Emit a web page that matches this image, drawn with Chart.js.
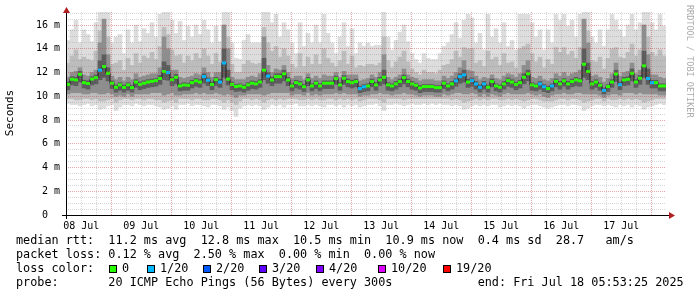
<!DOCTYPE html>
<html>
<head>
<meta charset="utf-8">
<script src="https://cdn.jsdelivr.net/npm/chart.js@4.4.1/dist/chart.umd.min.js"></script>
<style>
    html, body { margin: 0; padding: 0; background: #ffffff; }
    #wrap { width: 697px; height: 297px; }
</style>
</head>
<body>
<div id="wrap"><canvas id="smokeChart" width="697" height="297"></canvas></div>
<script>
// Smokeping graph, last 10 days, one sample every 1.6 h
const START_H = 5.89;    // hours after 08 Jul 00:00 (= end - 10 days)
const END_H = 245.89;    // Fri Jul 18 05:53:25
const STEP_H = 1.6;
const Y_MAX = 17.1;

const dayLabels = ['08 Jul', '09 Jul', '10 Jul', '11 Jul', '12 Jul', '13 Jul', '14 Jul', '15 Jul', '16 Jul', '17 Jul'];
const xTickHours = [6, 12, 18, 24, 30, 36, 42, 48, 54, 60, 66, 72, 78, 84, 90, 96, 102, 108, 114, 120,
    126, 132, 138, 144, 150, 156, 162, 168, 174, 180, 186, 192, 198, 204, 210, 216, 222, 228, 234, 240];
const yMajorTicks = [0, 2, 4, 6, 8, 10, 12, 14, 16];
const yLabels = ['0  ', '2 m', '4 m', '6 m', '8 m', '10 m', '12 m', '14 m', '16 m'];

// median rtt (ms)
const medianRtt = [
    11.0, 11.43, 11.38, 11.85, 11.15, 11.07, 11.45, 11.57, 12.2, 12.5,
    11.94, 11.1, 10.76, 10.96, 10.75, 10.96, 10.73, 11.2, 11.0, 11.1,
    11.2, 11.26, 11.32, 11.5, 12.08, 12.0, 11.4, 11.6, 10.87, 10.95,
    10.93, 11.15, 11.3, 11.2, 11.66, 11.35, 11.0, 11.4, 11.2, 12.8,
    11.45, 11.0, 10.82, 10.87, 10.76, 10.96, 11.1, 11.04, 11.2, 12.2,
    11.7, 11.38, 11.66, 11.66, 11.9, 11.38, 10.87, 11.15, 11.04, 10.8,
    11.38, 10.87, 11.1, 10.87, 11.1, 11.1, 11.1, 11.49, 10.96, 11.52,
    11.24, 11.15, 11.24, 10.65, 10.8, 10.87, 11.24, 10.96, 11.38, 11.6,
    10.96, 10.87, 11.04, 11.24, 11.57, 11.24, 11.04, 10.93, 10.7, 10.82,
    10.82, 10.82, 10.73, 10.73, 11.1, 10.87, 11.04, 11.3, 11.66, 11.8,
    11.2, 11.32, 11.04, 10.76, 11.04, 10.76, 11.24, 10.87, 10.76, 11.04,
    11.32, 11.2, 11.0, 11.15, 11.6, 11.9, 10.96, 10.87, 11.04, 10.8,
    10.65, 10.87, 11.26, 11.04, 11.3, 11.04, 11.24, 11.38, 11.3, 12.7,
    12.08, 11.04, 11.2, 10.93, 10.5, 10.82, 11.2, 11.88, 10.98, 11.38,
    11.43, 11.94, 11.2, 11.52, 12.56, 11.5, 11.15, 11.15, 10.87, 10.87
];

// lost pings per sample (index into lossLabels / lossColors)
const lossIdx = [
    0, 0, 0, 0, 0, 0, 0, 0, 1, 0,
    0, 0, 0, 0, 0, 0, 0, 0, 0, 0,
    0, 0, 0, 0, 0, 1, 0, 0, 0, 0,
    0, 0, 0, 0, 1, 1, 0, 0, 1, 1,
    0, 0, 0, 0, 0, 0, 0, 0, 0, 0,
    1, 0, 0, 0, 0, 0, 0, 0, 0, 0,
    0, 0, 0, 0, 0, 0, 0, 0, 0, 0,
    0, 0, 0, 1, 1, 0, 0, 0, 0, 0,
    0, 0, 0, 0, 0, 0, 0, 0, 0, 0,
    0, 0, 0, 0, 0, 0, 0, 1, 1, 1,
    0, 1, 1, 1, 1, 0, 0, 0, 0, 0,
    0, 0, 0, 0, 0, 0, 0, 0, 1, 1,
    0, 1, 0, 0, 0, 0, 0, 0, 0, 0,
    0, 0, 0, 0, 1, 0, 0, 0, 1, 0,
    0, 0, 0, 0, 0, 1, 1, 0, 0, 0
];

// smoke: outer band (fastest .. slowest ping)
const smokeMin = [
    9.4, 9.3, 9.3, 9.2, 9.3, 9.4, 9.2, 9.3, 8.9, 9.0,
    9.2, 9.3, 8.8, 9.1, 9.3, 9.3, 9.2, 9.4, 9.3, 9.2,
    9.3, 9.3, 9.2, 9.1, 8.9, 9.0, 9.2, 8.9, 9.3, 9.3,
    9.4, 9.2, 9.3, 9.3, 9.2, 9.1, 9.3, 9.3, 9.2, 8.9,
    9.1, 8.8, 8.3, 9.0, 9.2, 9.3, 9.2, 9.3, 9.2, 8.9,
    9.1, 9.3, 9.2, 9.3, 9.1, 9.3, 9.3, 9.4, 9.2, 9.2,
    9.3, 9.2, 9.3, 9.2, 9.1, 9.3, 9.3, 9.2, 9.3, 9.1,
    9.3, 9.2, 9.3, 9.1, 9.2, 9.3, 9.3, 9.4, 9.2, 8.8,
    9.3, 9.3, 9.4, 9.3, 9.2, 9.3, 9.4, 9.3, 9.3, 9.4,
    9.3, 9.4, 9.3, 9.4, 9.3, 9.3, 9.2, 9.3, 9.2, 8.9,
    9.0, 9.2, 9.3, 9.2, 9.3, 9.2, 9.3, 9.3, 9.1, 9.2,
    9.3, 9.2, 9.3, 9.2, 9.0, 9.2, 9.3, 9.3, 9.2, 9.1,
    9.0, 9.1, 9.2, 9.3, 9.3, 9.2, 9.3, 9.3, 9.2, 8.8,
    9.0, 9.2, 9.3, 9.3, 9.2, 9.3, 9.2, 9.1, 9.3, 9.2,
    9.3, 9.1, 9.3, 9.2, 8.9, 9.1, 9.2, 9.3, 9.4, 9.3
];
const smokeMax = [
    14.7, 15.6, 16.4, 14.5, 15.6, 15.2, 14.6, 16.2, 17.1, 17.1,
    17.1, 14.5, 15.0, 15.2, 13.6, 15.6, 14.5, 16.0, 14.6, 15.7,
    15.3, 16.2, 15.0, 16.9, 17.1, 17.1, 16.4, 15.3, 16.3, 14.7,
    15.9, 15.0, 16.0, 15.2, 16.4, 15.6, 14.5, 15.9, 14.6, 17.1,
    17.1, 14.5, 13.2, 13.1, 14.7, 15.2, 14.5, 14.5, 14.5, 17.1,
    17.1, 16.2, 16.9, 15.0, 16.2, 15.6, 14.5, 13.6, 16.2, 14.2,
    15.3, 14.5, 16.0, 14.5, 16.9, 15.3, 14.5, 13.6, 15.0, 16.2,
    14.2, 15.7, 13.6, 14.5, 14.2, 14.5, 14.2, 14.3, 14.3, 17.1,
    15.0, 13.9, 14.7, 15.4, 16.0, 14.6, 13.6, 13.1, 12.8, 13.6,
    13.2, 13.1, 13.1, 13.6, 14.2, 14.5, 15.2, 16.2, 14.9, 16.4,
    16.9, 16.6, 14.5, 15.3, 13.9, 16.9, 15.0, 15.7, 14.5, 16.2,
    14.2, 14.7, 13.9, 16.9, 16.9, 16.9, 16.2, 15.0, 15.6, 13.9,
    15.6, 14.5, 16.9, 16.4, 16.9, 15.9, 16.4, 15.0, 16.9, 17.1,
    17.1, 15.0, 14.5, 15.6, 14.2, 15.6, 16.9, 16.4, 15.6, 15.0,
    16.0, 16.9, 15.6, 16.2, 17.1, 17.1, 16.2, 15.6, 16.9, 15.9
];

// smoke: second band
const band2Lo = [
    9.8, 9.8, 9.7, 9.7, 9.8, 9.8, 9.7, 9.8, 9.6, 9.6,
    9.7, 9.8, 9.5, 9.7, 9.8, 9.8, 9.7, 9.8, 9.8, 9.7,
    9.8, 9.8, 9.7, 9.7, 9.5, 9.6, 9.7, 9.5, 9.8, 9.8,
    9.8, 9.7, 9.8, 9.8, 9.7, 9.7, 9.8, 9.8, 9.7, 9.5,
    9.7, 9.5, 9.3, 9.6, 9.8, 9.8, 9.7, 9.8, 9.7, 9.5,
    9.7, 9.8, 9.7, 9.8, 9.7, 9.8, 9.8, 9.8, 9.7, 9.7,
    9.8, 9.7, 9.8, 9.7, 9.7, 9.8, 9.8, 9.7, 9.8, 9.7,
    9.8, 9.7, 9.8, 9.6, 9.7, 9.8, 9.8, 9.8, 9.7, 9.5,
    9.8, 9.8, 9.8, 9.8, 9.7, 9.8, 9.8, 9.8, 9.8, 9.8,
    9.8, 9.8, 9.8, 9.8, 9.8, 9.8, 9.7, 9.8, 9.7, 9.5,
    9.6, 9.7, 9.8, 9.7, 9.8, 9.7, 9.8, 9.8, 9.7, 9.7,
    9.8, 9.7, 9.8, 9.7, 9.6, 9.7, 9.8, 9.8, 9.7, 9.6,
    9.6, 9.6, 9.7, 9.8, 9.8, 9.7, 9.8, 9.8, 9.7, 9.5,
    9.6, 9.7, 9.8, 9.8, 9.6, 9.8, 9.7, 9.7, 9.8, 9.7,
    9.8, 9.7, 9.8, 9.7, 9.5, 9.6, 9.7, 9.8, 9.8, 9.8
];
const band2Hi = [
    12.8, 13.4, 13.9, 13.1, 13.3, 13.1, 13.0, 13.8, 15.5, 16.0,
    15.0, 12.7, 12.8, 13.0, 12.2, 13.2, 12.6, 13.6, 12.8, 13.4,
    13.2, 13.7, 13.1, 14.2, 15.8, 15.2, 13.9, 13.4, 13.5, 12.8,
    13.4, 13.0, 13.6, 13.2, 14.0, 13.4, 12.7, 13.6, 12.9, 16.0,
    15.0, 12.7, 12.0, 12.0, 12.7, 13.0, 12.8, 12.7, 12.8, 15.8,
    14.5, 13.8, 14.2, 13.3, 14.0, 13.4, 12.7, 12.4, 13.6, 12.5,
    13.3, 12.7, 13.5, 12.7, 14.0, 13.2, 12.8, 12.5, 13.0, 13.8,
    12.7, 13.4, 12.4, 12.6, 12.5, 12.7, 12.7, 12.6, 12.8, 15.0,
    13.0, 12.4, 12.9, 13.3, 13.8, 12.9, 12.3, 12.0, 11.8, 12.2,
    12.0, 12.0, 11.9, 12.2, 12.6, 12.7, 13.1, 13.8, 13.3, 14.1,
    14.0, 14.0, 12.8, 13.0, 12.5, 13.8, 13.1, 13.3, 12.6, 13.6,
    12.8, 12.9, 12.4, 14.0, 14.2, 14.4, 13.6, 12.9, 13.3, 12.4,
    13.1, 12.7, 14.1, 13.7, 14.1, 13.5, 13.8, 13.2, 14.1, 16.2,
    15.5, 13.0, 12.9, 13.3, 12.3, 13.2, 14.0, 14.1, 13.3, 13.2,
    13.7, 14.4, 13.4, 13.9, 16.0, 15.0, 13.7, 13.4, 13.9, 13.4
];

// smoke: third band
const band3Lo = [
    10.2, 10.3, 10.3, 10.3, 10.2, 10.2, 10.3, 10.3, 10.2, 10.2,
    10.3, 10.2, 10.0, 10.1, 10.0, 10.2, 10.0, 10.2, 10.2, 10.2,
    10.2, 10.3, 10.3, 10.3, 10.1, 10.2, 10.3, 10.1, 10.1, 10.2,
    10.2, 10.2, 10.3, 10.2, 10.3, 10.2, 10.2, 10.3, 10.2, 10.1,
    10.2, 10.1, 9.9, 10.1, 10.1, 10.2, 10.2, 10.2, 10.2, 10.1,
    10.2, 10.3, 10.3, 10.3, 10.3, 10.3, 10.1, 10.2, 10.2, 10.1,
    10.3, 10.1, 10.2, 10.1, 10.2, 10.2, 10.2, 10.3, 10.2, 10.3,
    10.2, 10.2, 10.2, 10.0, 10.1, 10.1, 10.2, 10.2, 10.3, 10.2,
    10.2, 10.1, 10.2, 10.2, 10.3, 10.2, 10.2, 10.1, 10.0, 10.1,
    10.1, 10.1, 10.0, 10.0, 10.2, 10.1, 10.2, 10.3, 10.3, 10.2,
    10.2, 10.3, 10.2, 10.0, 10.2, 10.0, 10.2, 10.1, 10.0, 10.2,
    10.3, 10.2, 10.2, 10.2, 10.2, 10.3, 10.2, 10.1, 10.2, 10.0,
    9.9, 10.1, 10.2, 10.2, 10.3, 10.2, 10.2, 10.3, 10.3, 10.2,
    10.2, 10.2, 10.2, 10.1, 9.9, 10.1, 10.2, 10.2, 10.1, 10.3,
    10.3, 10.3, 10.2, 10.3, 10.2, 10.2, 10.2, 10.2, 10.1, 10.1
];
const band3Hi = [
    11.6, 12.0, 12.1, 12.4, 11.8, 11.7, 12.0, 12.2, 14.5, 16.5,
    13.5, 11.7, 11.4, 11.6, 11.3, 11.6, 11.4, 11.9, 11.6, 11.7,
    11.8, 11.9, 11.9, 12.4, 15.0, 14.0, 12.2, 12.2, 11.6, 11.5,
    11.6, 11.7, 11.9, 11.8, 12.4, 12.0, 11.6, 12.0, 12.0, 16.0,
    14.0, 11.6, 11.4, 11.4, 11.4, 11.6, 11.7, 11.6, 11.9, 15.0,
    12.6, 12.0, 12.3, 12.2, 12.6, 12.0, 11.5, 11.7, 11.7, 11.4,
    11.9, 11.5, 11.7, 11.5, 11.8, 11.7, 11.7, 12.0, 11.6, 12.1,
    11.8, 11.8, 11.8, 11.3, 11.4, 11.5, 11.8, 11.6, 12.0, 13.5,
    11.6, 11.4, 11.6, 11.8, 12.3, 11.8, 11.6, 11.5, 11.3, 11.4,
    11.4, 11.4, 11.3, 11.3, 11.7, 11.5, 11.7, 12.0, 12.4, 13.0,
    12.2, 12.1, 11.7, 11.4, 11.6, 11.5, 11.8, 11.5, 11.4, 11.7,
    11.9, 11.8, 11.6, 11.9, 12.6, 13.0, 11.6, 11.5, 11.7, 11.4,
    11.3, 11.5, 11.9, 11.7, 12.0, 11.7, 11.9, 12.0, 12.2, 16.5,
    14.5, 11.7, 11.8, 11.6, 11.2, 11.5, 11.9, 12.8, 11.7, 12.0,
    12.1, 12.8, 11.9, 12.2, 16.0, 13.5, 11.8, 11.8, 11.6, 11.5
];

// smoke: innermost band around the median
const coreLo = [
    10.55, 10.95, 10.9, 11.2, 10.7, 10.6, 10.95, 11.05, 11.4, 11.6,
    11.3, 10.65, 10.35, 10.5, 10.35, 10.5, 10.35, 10.75, 10.55, 10.65,
    10.75, 10.8, 10.85, 11.0, 11.4, 11.35, 10.9, 11.05, 10.45, 10.5,
    10.5, 10.7, 10.85, 10.75, 11.1, 10.9, 10.55, 10.9, 10.75, 11.6,
    10.95, 10.55, 10.4, 10.45, 10.35, 10.5, 10.65, 10.6, 10.75, 11.4,
    11.1, 10.9, 11.1, 11.1, 11.3, 10.9, 10.45, 10.7, 10.6, 10.4,
    10.9, 10.45, 10.65, 10.45, 10.65, 10.65, 10.65, 11.0, 10.5, 11.0,
    10.8, 10.7, 10.8, 10.3, 10.4, 10.45, 10.8, 10.5, 10.9, 11.05,
    10.5, 10.45, 10.6, 10.8, 11.05, 10.8, 10.6, 10.5, 10.3, 10.4,
    10.4, 10.4, 10.35, 10.35, 10.65, 10.45, 10.6, 10.85, 11.1, 11.2,
    10.75, 10.85, 10.6, 10.35, 10.6, 10.35, 10.8, 10.45, 10.35, 10.6,
    10.85, 10.75, 10.55, 10.7, 11.05, 11.3, 10.5, 10.45, 10.6, 10.4,
    10.3, 10.45, 10.8, 10.6, 10.85, 10.6, 10.8, 10.9, 10.85, 11.6,
    11.4, 10.6, 10.75, 10.5, 10.2, 10.4, 10.75, 11.25, 10.55, 10.9,
    10.95, 11.3, 10.75, 11.0, 11.6, 11.0, 10.7, 10.7, 10.45, 10.45
];
const coreHi = [
    11.2, 11.65, 11.6, 12.1, 11.35, 11.3, 11.65, 11.8, 13.0, 13.5,
    12.4, 11.3, 10.95, 11.15, 10.95, 11.15, 10.9, 11.4, 11.2, 11.3,
    11.4, 11.45, 11.5, 11.75, 12.9, 12.6, 11.6, 11.85, 11.05, 11.15,
    11.1, 11.35, 11.5, 11.4, 11.9, 11.55, 11.2, 11.6, 11.45, 14.0,
    12.2, 11.2, 11.0, 11.05, 10.95, 11.15, 11.3, 11.25, 11.4, 13.2,
    12.0, 11.6, 11.9, 11.9, 12.2, 11.6, 11.05, 11.35, 11.25, 11.0,
    11.6, 11.05, 11.3, 11.05, 11.3, 11.3, 11.3, 11.7, 11.15, 11.75,
    11.45, 11.35, 11.45, 10.85, 11.0, 11.05, 11.45, 11.15, 11.6, 12.2,
    11.15, 11.05, 11.25, 11.45, 11.8, 11.45, 11.25, 11.1, 10.9, 11.0,
    11.0, 11.0, 10.9, 10.9, 11.3, 11.05, 11.25, 11.5, 11.9, 12.2,
    11.45, 11.55, 11.25, 10.95, 11.25, 10.95, 11.45, 11.05, 10.95, 11.25,
    11.55, 11.4, 11.2, 11.35, 11.9, 12.2, 11.15, 11.05, 11.25, 11.0,
    10.85, 11.05, 11.45, 11.25, 11.5, 11.25, 11.45, 11.6, 11.5, 14.0,
    12.8, 11.25, 11.4, 11.1, 10.7, 11.0, 11.4, 12.2, 11.2, 11.6,
    11.65, 12.3, 11.4, 11.75, 13.8, 12.3, 11.35, 11.35, 11.05, 11.05
];

const lossLabels = ['0', '1/20', '2/20', '3/20', '4/20', '10/20', '19/20'];
const lossColors = ['#26ff00', '#00b8ff', '#0059ff', '#5e00ff', '#7e00ff', '#dd00ff', '#ff0000'];

const legendLines = [
    'median rtt:  11.2 ms avg  12.8 ms max  10.5 ms min  10.9 ms now  0.4 ms sd  28.7   am/s',
    'packet loss: 0.12 % avg  2.50 % max  0.00 % min  0.00 % now',
    'loss color:',
    'probe:       20 ICMP Echo Pings (56 Bytes) every 300s            end: Fri Jul 18 05:53:25 2025'
];

const MAJOR_GRID = 'rgba(200, 60, 60, 0.45)';
const MINOR_GRID = 'rgba(130, 130, 130, 0.32)';
const MONO = '"DejaVu Sans Mono", "Liberation Mono", monospace';

const sampleHours = medianRtt.map((_, i) => START_H + STEP_H * (i + 0.5));

function band(lo, hi) {
    return lo.map((v, i) => ({ x: sampleHours[i], y: [v, hi[i]] }));
}

const smokeBands = [
    { lo: smokeMin, hi: smokeMax, color: '#dddddd' },
    { lo: band2Lo, hi: band2Hi, color: '#bdbdbd' },
    { lo: band3Lo, hi: band3Hi, color: '#8e8e8e' },
    { lo: coreLo, hi: coreHi, color: '#5c5c5c' }
];

const datasets = smokeBands.map((b, k) => ({
    type: 'bar',
    order: 10 - k,
    data: band(b.lo, b.hi),
    backgroundColor: b.color,
    borderWidth: 0,
    grouped: false,
    barPercentage: 1,
    categoryPercentage: 1
}));

// thin dark line joining the medians
datasets.push({
    type: 'line',
    order: 2,
    data: medianRtt.map((v, i) => ({ x: sampleHours[i], y: v })),
    stepped: 'middle',
    borderColor: '#202020',
    borderWidth: 1,
    pointRadius: 0
});

// median marks coloured by packet loss
datasets.push({
    type: 'line',
    order: 1,
    data: medianRtt.map((v, i) => ({ x: sampleHours[i], y: v })),
    showLine: false,
    pointStyle: 'line',
    pointRadius: 2,
    pointBorderWidth: 3,
    pointBorderColor: lossIdx.map(k => lossColors[k])
});

const decorPlugin = {
    id: 'smokepingDecor',
    afterDraw(chart) {
        const ctx = chart.ctx;
        const area = chart.chartArea;
        ctx.save();

        // axes
        ctx.fillStyle = '#000000';
        ctx.fillRect(area.left - 4, area.bottom, area.right - area.left + 8, 1);
        ctx.fillRect(area.left, area.top, 1, area.bottom - area.top + 4);

        // arrows
        ctx.fillStyle = '#b01e1e';
        ctx.beginPath();
        ctx.moveTo(area.left - 3, area.top + 1);
        ctx.lineTo(area.left + 4, area.top + 1);
        ctx.lineTo(area.left + 0.5, area.top - 5);
        ctx.closePath();
        ctx.fill();
        ctx.beginPath();
        ctx.moveTo(area.right + 3, area.bottom - 3);
        ctx.lineTo(area.right + 3, area.bottom + 4);
        ctx.lineTo(area.right + 9, area.bottom + 0.5);
        ctx.closePath();
        ctx.fill();

        // y axis title
        ctx.fillStyle = '#000000';
        ctx.font = '11px ' + MONO;
        ctx.textAlign = 'center';
        ctx.textBaseline = 'middle';
        ctx.save();
        ctx.translate(10, 113);
        ctx.rotate(-Math.PI / 2);
        ctx.fillText('Seconds', 0, 0);
        ctx.restore();

        // legend
        ctx.font = '11.8px ' + MONO;
        ctx.textAlign = 'left';
        const lineY = [241, 255, 269, 283];
        legendLines.forEach((t, i) => ctx.fillText(t, 16, lineY[i]));

        const boxX = [109, 147, 203, 259, 316, 378, 443];
        lossColors.forEach((c, i) => {
            ctx.fillStyle = c;
            ctx.fillRect(boxX[i], 265, 7, 7);
            ctx.strokeStyle = '#000000';
            ctx.lineWidth = 1;
            ctx.strokeRect(boxX[i] + 0.5, 265.5, 7, 7);
            ctx.fillStyle = '#000000';
            ctx.fillText(lossLabels[i], boxX[i] + 13, 269);
        });

        // watermark
        ctx.fillStyle = '#aaaaaa';
        ctx.font = '8.5px ' + MONO;
        ctx.translate(689, 5);
        ctx.rotate(Math.PI / 2);
        ctx.textAlign = 'left';
        ctx.fillText('RRDTOOL / TOBI OETIKER', 0, 0);
        ctx.restore();
    }
};

new Chart(document.getElementById('smokeChart'), {
    type: 'bar',
    data: { datasets: datasets },
    options: {
        responsive: false,
        animation: false,
        events: [],
        layout: { padding: { top: 12, right: 31, left: 0, bottom: 0 } },
        plugins: {
            legend: { display: false },
            tooltip: { enabled: false }
        },
        scales: {
            x: {
                type: 'linear',
                min: START_H,
                max: END_H,
                offset: false,
                afterBuildTicks: s => { s.ticks = xTickHours.map(v => ({ value: v })); },
                afterFit: s => { s.height = 82; },
                grid: {
                    z: 1,
                    offset: false,
                    drawTicks: false,
                    color: c => (c.tick && c.tick.value % 24 === 0) ? MAJOR_GRID : MINOR_GRID
                },
                border: { display: false, dash: [1, 1] },
                ticks: {
                    autoSkip: false,
                    maxRotation: 0,
                    padding: 5,
                    color: '#000000',
                    font: { family: MONO, size: 10 },
                    callback: v => v % 24 === 12 ? dayLabels[Math.floor(v / 24)] : ''
                }
            },
            y: {
                type: 'linear',
                min: 0,
                max: Y_MAX,
                afterBuildTicks: s => {
                    const t = [];
                    for (let v = 0; v <= Y_MAX; v += 0.5) t.push({ value: v });
                    s.ticks = t;
                },
                afterFit: s => { s.width = 66; },
                grid: {
                    z: 1,
                    drawTicks: false,
                    color: c => (c.tick && c.tick.value % 2 === 0) ? MAJOR_GRID : MINOR_GRID
                },
                border: { display: false, dash: [1, 1] },
                ticks: {
                    autoSkip: false,
                    padding: 6,
                    color: '#000000',
                    font: { family: MONO, size: 10 },
                    callback: v => {
                        const k = yMajorTicks.indexOf(v);
                        return k >= 0 ? yLabels[k] : '';
                    }
                }
            }
        }
    },
    plugins: [decorPlugin]
});
</script>
</body>
</html>
